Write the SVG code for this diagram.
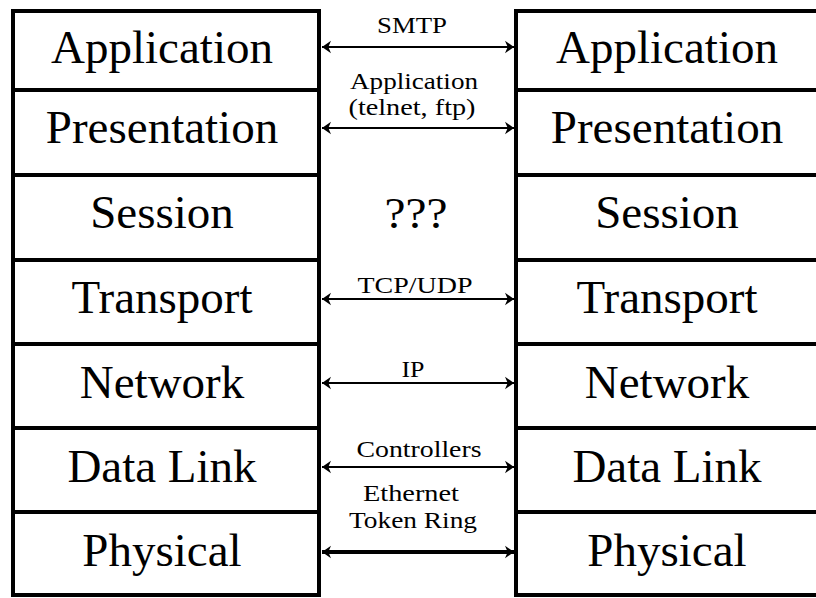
<svg xmlns="http://www.w3.org/2000/svg" width="816" height="598" viewBox="0 0 816 598">
<style>
.box{fill:#fff;stroke:#000;stroke-width:4}
text{font-family:'Liberation Serif','Times New Roman',serif;fill:#000;text-anchor:middle}
.big{font-size:47px}
.lbl{font-size:24px}
.q{font-size:44px}
.arr{stroke:#000;stroke-width:2;fill:none;marker-start:url(#ah);marker-end:url(#ah)}
</style>
<defs>
<marker id="ah" viewBox="0 0 10 14" refX="10" refY="7" markerWidth="9" markerHeight="14" markerUnits="userSpaceOnUse" orient="auto-start-reverse">
<path d="M0,0 L10,7 L0,14 L3,7 Z" fill="#000"/>
</marker>
</defs>
<rect width="816" height="598" fill="#fff"/>
<g id="left-application"><rect class="box" x="13" y="11" width="306" height="79"/><text class="big" x="162" y="63">Application</text></g>
<g id="left-presentation"><rect class="box" x="13" y="90" width="306" height="85"/><text class="big" x="162" y="143">Presentation</text></g>
<g id="left-session"><rect class="box" x="13" y="175" width="306" height="85"/><text class="big" x="162" y="228">Session</text></g>
<g id="left-transport"><rect class="box" x="13" y="260" width="306" height="84"/><text class="big" x="162" y="313">Transport</text></g>
<g id="left-network"><rect class="box" x="13" y="344" width="306" height="84"/><text class="big" x="162" y="398">Network</text></g>
<g id="left-datalink"><rect class="box" x="13" y="428" width="306" height="84"/><text class="big" x="162" y="482">Data Link</text></g>
<g id="left-physical"><rect class="box" x="13" y="512" width="306" height="83"/><text class="big" x="162" y="566">Physical</text></g>
<g id="right-application"><rect class="box" x="516" y="11" width="310" height="79"/><text class="big" x="667" y="63">Application</text></g>
<g id="right-presentation"><rect class="box" x="516" y="90" width="310" height="85"/><text class="big" x="667" y="143">Presentation</text></g>
<g id="right-session"><rect class="box" x="516" y="175" width="310" height="85"/><text class="big" x="667" y="228">Session</text></g>
<g id="right-transport"><rect class="box" x="516" y="260" width="310" height="84"/><text class="big" x="667" y="313">Transport</text></g>
<g id="right-network"><rect class="box" x="516" y="344" width="310" height="84"/><text class="big" x="667" y="398">Network</text></g>
<g id="right-datalink"><rect class="box" x="516" y="428" width="310" height="84"/><text class="big" x="667" y="482">Data Link</text></g>
<g id="right-physical"><rect class="box" x="516" y="512" width="310" height="83"/><text class="big" x="667" y="566">Physical</text></g>
<g id="connectors">
<line class="arr" x1="322" y1="47" x2="514" y2="47"/>
<line class="arr" x1="322" y1="128" x2="514" y2="128"/>
<line class="arr" x1="322" y1="299" x2="514" y2="299"/>
<line class="arr" x1="322" y1="383" x2="514" y2="383"/>
<line class="arr" x1="322" y1="467" x2="514" y2="467"/>
<line class="arr" x1="322" y1="552" x2="514" y2="552" style="stroke-width:4"/>
<text class="lbl" x="412" y="33" textLength="70" lengthAdjust="spacingAndGlyphs">SMTP</text>
<text class="lbl" x="414" y="89" textLength="128" lengthAdjust="spacingAndGlyphs">Application</text>
<text class="lbl" x="412" y="115" textLength="127" lengthAdjust="spacingAndGlyphs">(telnet, ftp)</text>
<text class="q" x="416" y="228" textLength="63" lengthAdjust="spacingAndGlyphs">???</text>
<text class="lbl" x="415" y="293" textLength="115" lengthAdjust="spacingAndGlyphs">TCP/UDP</text>
<text class="lbl" x="413" y="377" textLength="23" lengthAdjust="spacingAndGlyphs">IP</text>
<text class="lbl" x="419" y="457" textLength="125" lengthAdjust="spacingAndGlyphs">Controllers</text>
<text class="lbl" x="411" y="501" textLength="96" lengthAdjust="spacingAndGlyphs">Ethernet</text>
<text class="lbl" x="413" y="528" textLength="128" lengthAdjust="spacingAndGlyphs">Token Ring</text>
</g>
</svg>
